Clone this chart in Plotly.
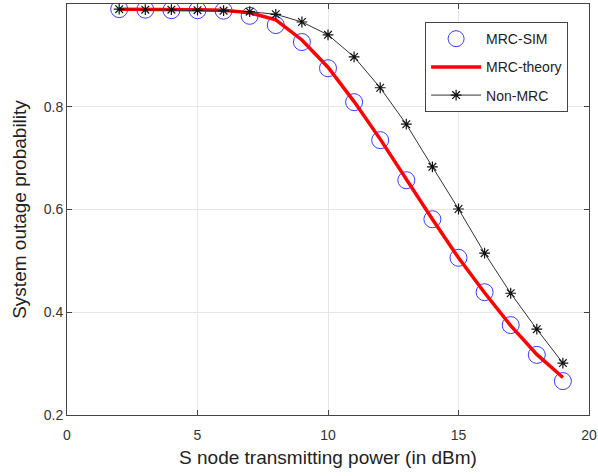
import plotly.graph_objects as go

x_vals = [2, 3, 4, 5, 6, 7, 8, 9, 10, 11, 12, 13, 14, 15, 16, 17, 18, 19]
mrc_sim = [0.990, 0.989, 0.988, 0.988, 0.987, 0.977, 0.959, 0.926, 0.875, 0.809,
           0.735, 0.657, 0.581, 0.506, 0.439, 0.375, 0.317, 0.266]
mrc_theory = [0.990, 0.990, 0.989, 0.989, 0.988, 0.983, 0.969, 0.930, 0.877, 0.810,
              0.737, 0.658, 0.581, 0.506, 0.438, 0.374, 0.318, 0.273]
non_mrc = [0.990, 0.989, 0.989, 0.988, 0.987, 0.985, 0.980, 0.965, 0.940, 0.897,
           0.837, 0.766, 0.683, 0.601, 0.515, 0.437, 0.367, 0.301]

font = "Liberation Sans, Arial, sans-serif"

fig = go.Figure()
fig.add_trace(go.Scatter(x=x_vals, y=mrc_sim, mode="markers", name="MRC-SIM", legendgroup="a",
                         marker=dict(symbol="circle-open", size=17, color="#3b3bff",
                                     line=dict(width=1, color="#3b3bff"))))
fig.add_trace(go.Scatter(x=x_vals, y=mrc_theory, mode="lines", name="MRC-theory", legendgroup="b",
                         line=dict(color="#ff0000", width=3.5)))
fig.add_trace(go.Scatter(x=x_vals, y=non_mrc, mode="lines+markers", name="Non-MRC", legendgroup="c",
                         line=dict(color="#333333", width=1),
                         marker=dict(symbol="asterisk-open", size=9, color="#111111",
                                     line=dict(width=1.2, color="#111111"))))

axis_common = dict(showline=True, linecolor="#444444", linewidth=1, mirror="allticks",
                   ticks="inside", ticklen=5, tickcolor="#444444",
                   showgrid=True, gridcolor="#e6e6e6", gridwidth=1, zeroline=False,
                   automargin=False,
                   tickfont=dict(family=font, size=14, color="#333333"))

fig.update_layout(
    width=598, height=476,
    margin=dict(l=67, r=9, t=4, b=61),
    paper_bgcolor="white", plot_bgcolor="white",
    font=dict(family=font, color="#222222"),
    xaxis=dict(range=[0, 20], tickvals=[0, 5, 10, 15, 20], ticklabelstandoff=7,
               title=dict(text="S node transmitting power (in dBm)", standoff=8,
                          font=dict(size=19, color="#222222")),
               **axis_common),
    yaxis=dict(range=[0.2, 1], tickvals=[0.2, 0.4, 0.6, 0.8, 1],
               title=dict(text="System outage probability", standoff=12,
                          font=dict(size=19, color="#222222")),
               **axis_common),
    legend=dict(x=0.686, y=0.956, xanchor="left", yanchor="top",
                bgcolor="white", bordercolor="#444444", borderwidth=1,
                font=dict(family=font, size=14, color="#222222"),
                tracegroupgap=7, itemwidth=50),
    showlegend=True,
)

fig.write_html("out.html", config={"displayModeBar": False},
               post_script="document.body.style.margin='0';document.body.style.overflow='hidden';")
